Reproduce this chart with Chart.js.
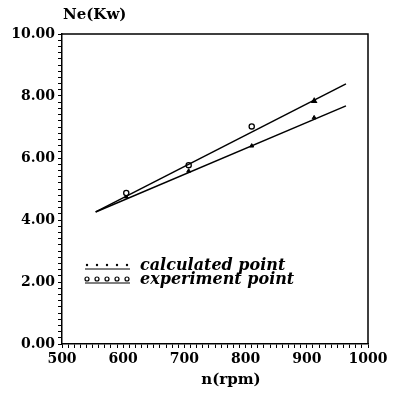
<!DOCTYPE html>
<html>
<head>
<meta charset="utf-8">
<script src="https://cdn.jsdelivr.net/npm/chart.js@4"></script>
<style>
  html, body { margin: 0; padding: 0; background: #fff; }
  #wrap { width: 395px; height: 394px; }
</style>
</head>
<body>
<div id="wrap"><canvas id="neChart"></canvas></div>
<script>
// values
const rpmPoints = [605, 707, 810, 912];
const expValues = [4.87, 5.77, 7.02, 7.84];
const calcValues = [4.75, 5.58, 6.39, 7.30];
const expFitRpm = [555, 964];
const expFitNe = [4.26, 8.39];
const calcFitRpm = [555, 964];
const calcFitNe = [4.26, 7.68];
const xTickLabels = ['500', '600', '700', '800', '900', '1000'];
const yTickLabels = ['0.00', '2.00', '4.00', '6.00', '8.00', '10.00'];
const legendNames = ['calculated point', 'experiment point'];

const serifFam = '"DejaVu Serif", "Liberation Serif", serif';

function toXY(xs, ys) {
    return xs.map((x, i) => ({ x: x, y: ys[i] }));
}

// frame, titles and the little legend drawn by hand
const extras = {
    id: 'extras',
    afterDraw(chart) {
        const ctx = chart.ctx;
        const a = chart.chartArea;
        ctx.save();
        ctx.strokeStyle = '#000';
        ctx.lineWidth = 1.5;
        ctx.beginPath();
        ctx.moveTo(a.left, a.top);
        ctx.lineTo(a.right, a.top);
        ctx.lineTo(a.right, a.bottom);
        ctx.stroke();

        ctx.fillStyle = '#000';
        ctx.font = 'bold 15px ' + serifFam;
        ctx.textBaseline = 'middle';
        ctx.textAlign = 'left';
        ctx.fillText('Ne(Kw)', 63, 15);

        ctx.textAlign = 'center';
        ctx.fillText('n(rpm)', 231, 380);

        // legend
        ctx.textAlign = 'left';
        const lx = 85, lw = 45;
        const rows = [267, 281];
        ctx.lineWidth = 1.2;
        rows.forEach((ry, i) => {
            ctx.beginPath();
            ctx.moveTo(lx, ry + 2);
            ctx.lineTo(lx + lw, ry + 2);
            ctx.stroke();
            for (let k = 0; k < 5; k++) {
                const px = lx + 2 + k * 10;
                ctx.beginPath();
                if (i === 0) {
                    ctx.arc(px, ry - 2, 1.2, 0, Math.PI * 2);
                    ctx.fill();
                } else {
                    ctx.arc(px, ry - 2, 2, 0, Math.PI * 2);
                    ctx.stroke();
                }
            }
            ctx.font = 'bold italic 16px ' + serifFam;
            ctx.fillText(legendNames[i], lx + lw + 10, ry - 1);
        });
        ctx.restore();
    }
};

const ctx = document.getElementById('neChart').getContext('2d');
const neChart = new Chart(ctx, {
    type: 'scatter',
    data: {
        datasets: [
            {
                label: 'experiment fit',
                data: toXY(expFitRpm, expFitNe),
                showLine: true,
                borderColor: '#000',
                borderWidth: 1.5,
                pointRadius: 0
            },
            {
                label: 'calculated fit',
                data: toXY(calcFitRpm, calcFitNe),
                showLine: true,
                borderColor: '#000',
                borderWidth: 1.5,
                pointRadius: 0
            },
            {
                label: legendNames[1],
                data: toXY(rpmPoints, expValues),
                pointStyle: ['circle', 'circle', 'circle', 'triangle'],
                pointRadius: 2.6,
                pointBackgroundColor: ['#fff', '#fff', '#fff', '#000'],
                pointBorderColor: '#000',
                pointBorderWidth: 1.3
            },
            {
                label: legendNames[0],
                data: toXY(rpmPoints, calcValues),
                pointStyle: 'triangle',
                pointRadius: 2.3,
                pointBackgroundColor: '#000',
                pointBorderColor: '#000',
                pointBorderWidth: 1
            }
        ]
    },
    options: {
        responsive: true,
        maintainAspectRatio: false,
        animation: false,
        layout: { padding: { left: 0, top: 34, right: 27, bottom: 0 } },
        plugins: {
            legend: { display: false },
            tooltip: { enabled: false }
        },
        scales: {
            x: {
                type: 'linear',
                min: 500,
                max: 1000,
                afterFit(scale) { scale.height = 50; },
                border: { color: '#000', width: 1.5 },
                grid: { drawOnChartArea: false, color: '#000', tickLength: 4 },
                ticks: {
                    stepSize: 10,
                    autoSkip: false,
                    maxRotation: 0,
                    color: '#000',
                    padding: 3,
                    font: { family: serifFam, size: 14, weight: 'bold' },
                    callback: (v) => (v % 100 === 0 ? xTickLabels[(v - 500) / 100] : '')
                }
            },
            y: {
                min: 0,
                max: 10,
                afterFit(scale) { scale.width = 62; },
                border: { color: '#000', width: 1.5 },
                grid: { drawOnChartArea: false, color: '#000', tickLength: 4 },
                ticks: {
                    stepSize: 0.2,
                    autoSkip: false,
                    color: '#000',
                    padding: 3,
                    font: { family: serifFam, size: 14, weight: 'bold' },
                    callback: (v) => {
                        const r = Math.round(v * 10) / 10;
                        return Math.abs(r / 2 - Math.round(r / 2)) < 1e-6 ? yTickLabels[Math.round(r / 2)] : '';
                    }
                }
            }
        }
    },
    plugins: [extras]
});
</script>
</body>
</html>
